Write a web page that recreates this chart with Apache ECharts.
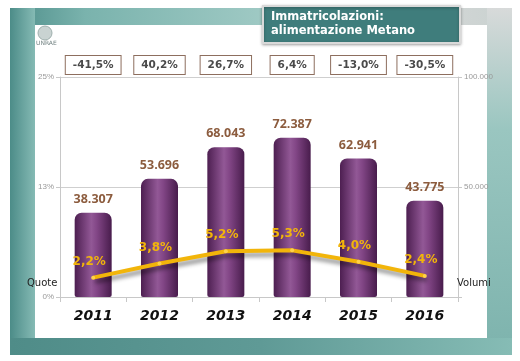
<!DOCTYPE html>
<html><head><meta charset="utf-8">
<script src="https://cdn.jsdelivr.net/npm/echarts@6/dist/echarts.min.js"></script>
<style>html,body{margin:0;padding:0;background:#fff}#c{width:520px;height:361px}</style>
</head><body><div id="c"></div>
<script>
const years = ['2011','2012','2013','2014','2015','2016'];
const volumes = [38307, 53696, 68043, 72387, 62941, 43775];
const shares = [2.2, 3.8, 5.2, 5.3, 4.0, 2.4];
const growth = ['-41,5%','40,2%','26,7%','6,4%','-13,0%','-30,5%'];
const leftTicks = [0, 12.5, 25];
const rightTicks = [0, 50000, 100000];

const fmtIt = v => String(Math.round(v)).replace(/\B(?=(\d{3})+(?!\d))/g, '.');
const chart = echarts.init(document.getElementById('c'), null, {renderer:'canvas'});
const teal = new echarts.graphic.LinearGradient(0,0,1,0,[
  {offset:0,color:'#4f8f8b'},{offset:0.15,color:'#7ab3ad'},{offset:0.6,color:'#a9cfca'},{offset:0.85,color:'#d3d6d6'},{offset:1,color:'#c9d2d0'}]);
const tealV = new echarts.graphic.LinearGradient(0,0,0,1,[
  {offset:0,color:'#d8dada'},{offset:0.35,color:'#9ac6c0'},{offset:1,color:'#7db3ad'}]);
chart.setOption({
  animation:false,
  graphic:[
    {type:'rect', z:-10, shape:{x:10,y:8,width:502,height:347}, style:{fill:teal}},
    {type:'rect', z:-9, shape:{x:10,y:8,width:25,height:347}, style:{fill:new echarts.graphic.LinearGradient(0,0,1,0,[{offset:0,color:'#4c8c88'},{offset:1,color:'#85bab4'}])}},
    {type:'rect', z:-9, shape:{x:487,y:8,width:25,height:347}, style:{fill:tealV}},
    {type:'rect', z:-9, shape:{x:10,y:338,width:502,height:17}, style:{fill:new echarts.graphic.LinearGradient(0,0,1,0,[{offset:0,color:'#4f8c88'},{offset:0.5,color:'#5f9a96'},{offset:1,color:'#86bcb5'}])}},
    {type:'rect', z:-8, shape:{x:35,y:25,width:452,height:313}, style:{fill:'#ffffff'}},
    {type:'rect', z:5, shape:{x:263,y:6,width:197,height:37}, style:{fill:'#3f7d7c', stroke:'#d9d9d9', lineWidth:2, shadowColor:'rgba(0,0,0,0.3)', shadowBlur:3, shadowOffsetY:1}},
    {type:'text', z:6, x:271, y:10, style:{text:'Immatricolazioni:\nalimentazione Metano', fill:'#ffffff', font:'bold 11.5px "DejaVu Sans"', lineHeight:14}},
    {type:'circle', z:1, shape:{cx:45,cy:33,r:7}, style:{fill:'#c9d3d2', stroke:'#9fb0ae', lineWidth:1}},
    {type:'text', z:1, x:36, y:40, style:{text:'UNRAE', fill:'#708080', font:'6px "DejaVu Sans"'}},
    {type:'text', z:4, x:27, y:278, style:{text:'Quote', fill:'#222', font:'10px "DejaVu Sans"'}},
    {type:'text', z:4, x:457, y:278, style:{text:'Volumi', fill:'#222', font:'10px "DejaVu Sans"'}}
  ],
  grid:{left:60, right:62, top:77, bottom:64},
  xAxis:[
    {type:'category', data:years, position:'bottom',
     axisLine:{lineStyle:{color:'#c8c8c8'}}, axisTick:{show:true, lineStyle:{color:'#c8c8c8'}},
     axisLabel:{color:'#111', fontFamily:'DejaVu Sans', fontWeight:'bold', fontStyle:'italic', fontSize:14, margin:12}},
    {type:'category', data:growth, position:'top',
     axisLine:{show:false}, axisTick:{show:false},
     axisLabel:{color:'#4a4a4a', fontFamily:'DejaVu Sans', fontWeight:'bold', fontSize:10.5, margin:3,
       borderColor:'#8d6e5e', borderWidth:1, backgroundColor:'#fff', padding:[4,7,3,7]}}
  ],
  yAxis:[
    {type:'value', min:0, max:25, interval:12.5, position:'left',
     axisLine:{show:true, lineStyle:{color:'#c8c8c8'}}, axisTick:{show:true, length:4, lineStyle:{color:'#c8c8c8'}},
     axisLabel:{color:'#999', fontSize:8, fontFamily:'Liberation Sans', margin:6, formatter:v=>Math.round(v)+'%'},
     splitLine:{show:true, lineStyle:{color:'#cfcfcf'}}},
    {type:'value', min:0, max:100000, interval:50000, position:'right',
     axisLine:{show:true, lineStyle:{color:'#c8c8c8'}}, axisTick:{show:true, length:4, lineStyle:{color:'#c8c8c8'}},
     axisLabel:{color:'#999', fontSize:8, fontFamily:'Liberation Sans', margin:6, formatter:v=>v===0?'':fmtIt(v)},
     splitLine:{show:false}}
  ],
  series:[
    {type:'bar', xAxisIndex:0, yAxisIndex:1, data:volumes, barWidth:37,
     itemStyle:{borderRadius:[7,7,2,2], color:new echarts.graphic.LinearGradient(0,0,1,0,[
       {offset:0,color:'#4d1f51'},{offset:0.45,color:'#925896'},{offset:0.6,color:'#824686'},{offset:1,color:'#481c4c'}])},
     label:{show:true, position:'top', distance:7, color:'#8c5c3e', fontFamily:'Open Sans', fontWeight:'bold', fontSize:12.5, formatter:p=>fmtIt(p.value)}},
    {type:'line', xAxisIndex:0, yAxisIndex:0, data:shares, z:5,
     lineStyle:{color:'#f2b50a', width:4, shadowColor:'rgba(0,0,0,0.45)', shadowBlur:4, shadowOffsetX:2, shadowOffsetY:4},
     symbol:'circle', symbolSize:4, itemStyle:{color:'#ffd24a'},
     label:{show:true, position:'top', distance:8, offset:[-4,0], color:'#f2b50a', fontFamily:'DejaVu Sans', fontWeight:'bold', fontSize:12,
       formatter:p=>p.value.toFixed(1).replace('.',',')+'%'}}
  ]
});
</script></body></html>
